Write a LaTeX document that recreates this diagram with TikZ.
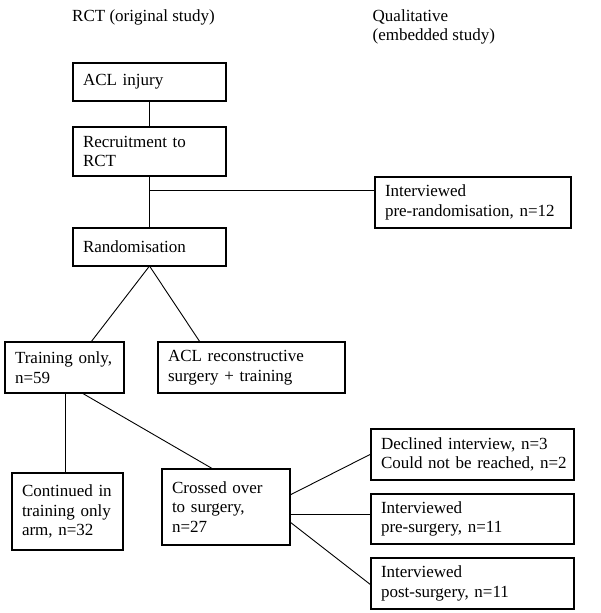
\documentclass[tikz,border=0pt]{standalone}
\usepackage{fontspec}
\setmainfont{Liberation Serif}
\begin{document}
\begin{tikzpicture}[x=1pt,y=-1pt,
  every node/.style={font=\fontsize{17}{19.5}\selectfont},
  bx/.style={draw, line width=1.1pt, align=left, inner xsep=10pt, inner ysep=0pt, outer sep=0pt},
  conn/.style={line width=0.9pt},
  hdr/.style={anchor=north west, inner sep=0pt, align=left}]
\useasboundingbox[fill=white] (0,0) rectangle (600,613);
% headers
\node[hdr] (h1) at (72,9.5) {RCT (original study)};
\node[hdr] (h2) at (372.5,9.5) {Qualitative\\(embedded study)};
% boxes: center (x,y), width w -> text width w-20, height h
\node[bx, text width=133pt, minimum height=38pt] (acl) at (149.5,82) {ACL injury};
\node[bx, text width=133pt, minimum height=49pt] (rec) at (149.5,151.5) {Recruitment to\\RCT};
\node[bx, text width=176pt, minimum height=51pt] (pre) at (473,202.5) {Interviewed\\pre-randomisation, n=12};
\node[bx, text width=133pt, minimum height=38pt] (rand) at (149.5,247) {Randomisation};
\node[bx, text width=99pt, minimum height=51pt] (train) at (64.5,367.5) {Training only,\\n=59};
\node[bx, text width=167pt, minimum height=51pt] (surg) at (251.5,367.5) {ACL reconstructive\\surgery + training};
\node[bx, text width=91pt, minimum height=77pt] (cont) at (67.5,511.5) {Continued in\\training only\\arm, n=32};
\node[bx, text width=108pt, minimum height=76pt] (cross) at (226,507) {Crossed over\\to surgery,\\n=27};
\node[bx, text width=183pt, minimum height=51pt] (decl) at (472.5,454.5) {\mbox{Declined interview, n=3}\\\mbox{Could not be reached, n=2}};
\node[bx, text width=183pt, minimum height=50pt] (pres) at (472.5,519) {Interviewed\\pre-surgery, n=11};
\node[bx, text width=183pt, minimum height=51pt] (posts) at (472.5,583.5) {Interviewed\\post-surgery, n=11};
% connectors
\coordinate (j) at (rec.south |- 0,190);
\draw[conn] (acl.south) -- (rec.north);
\draw[conn] (rec.south) -- (rand.north);
\draw[conn] (j) -- (j -| pre.west);
\draw[conn] (rand.south) -- (train.north -| 91,0);
\draw[conn] (rand.south) -- (surg.north -| 200,0);
\draw[conn] (train.south -| 65,0) -- (cont.north -| 65,0);
\draw[conn] (train.south -| 82,0) -- (cross.north -| 213,0);
\draw[conn] (cross.east |- 0,495) -- (decl.west |- 0,454);
\draw[conn] (cross.east |- 0,514) -- (pres.west |- 0,514);
\draw[conn] (cross.east |- 0,522) -- (posts.west |- 0,585);
\end{tikzpicture}
\end{document}
